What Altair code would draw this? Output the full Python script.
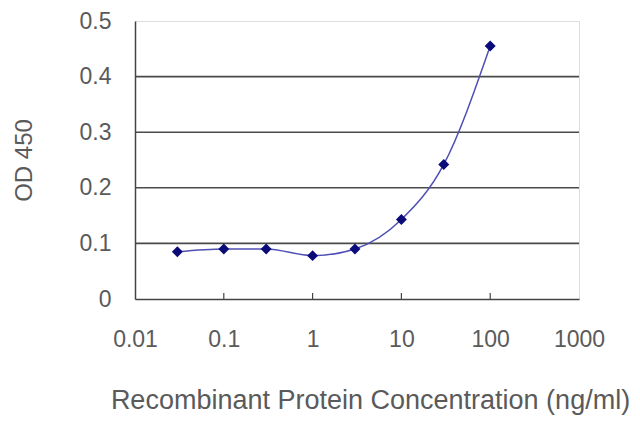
import altair as alt
import pandas as pd

# ELISA standard curve
conc = [0.03, 0.1, 0.3, 1, 3, 10, 30, 100]
od450 = [0.085, 0.090, 0.090, 0.078, 0.090, 0.143, 0.242, 0.455]
x_ticks = [0.01, 0.1, 1, 10, 100, 1000]
y_ticks = [0, 0.1, 0.2, 0.3, 0.4, 0.5]
grid_lines = [0.1, 0.2, 0.3, 0.4]

df = pd.DataFrame({"conc": conc, "od": od450})
ticks_df = pd.DataFrame({"t": x_ticks[1:-1]})
grid_df = pd.DataFrame({"g": grid_lines})

font = "Liberation Sans"
W, H = 444, 278

xscale = alt.Scale(type="log", domain=[0.01, 1000])
yscale = alt.Scale(domain=[0, 0.5])

x_axis = alt.Axis(values=x_ticks, labelExpr="datum.value >= 1 ? format(datum.value, 'd') : format(datum.value, '~g')",
                  grid=False, ticks=False, domainColor="#444", domainWidth=1.5, labelFlush=False,
                  labelFont=font, labelFontSize=23, labelColor="#5a5a5a", labelPadding=29,
                  title="Recombinant Protein Concentration (ng/ml)", titleFont=font,
                  titleFontSize=27, titleFontWeight="normal", titleColor="#5a5a5a",
                  titlePadding=36, titleX=235)
y_axis = alt.Axis(values=y_ticks, format="~g", grid=False, ticks=False, domainColor="#444",
                  domainWidth=1.5, labelFont=font, labelFontSize=23, labelColor="#5a5a5a",
                  labelPadding=24, labelFlush=False, title="OD 450", titleFont=font, titleFontSize=24,
                  titleFontWeight="normal", titleColor="#5a5a5a", titlePadding=43)

grid = alt.Chart(grid_df).mark_rule(color="#4a4a4a", strokeWidth=1.6).encode(
    y=alt.Y("g:Q", scale=yscale, axis=y_axis)
)

ticks = alt.Chart(ticks_df).mark_rule(color="#444", strokeWidth=1.2).encode(
    x=alt.X("t:Q", scale=xscale, axis=x_axis),
    y=alt.value(H - 6),
    y2=alt.value(H),
)

line = alt.Chart(df).mark_line(color="#4f4fb4", strokeWidth=1.5, interpolate="monotone").encode(
    x=alt.X("conc:Q", scale=xscale, axis=x_axis),
    y=alt.Y("od:Q", scale=yscale, axis=y_axis),
)

points = alt.Chart(df).mark_point(shape="diamond", filled=True, size=120, color="#0a0a78", opacity=1).encode(
    x=alt.X("conc:Q", scale=xscale),
    y=alt.Y("od:Q", scale=yscale),
)

chart = alt.layer(grid, ticks, line, points).properties(
    width=W, height=H,
    autosize=alt.AutoSizeParams(type="none"),
    padding={"left": 127, "top": 13, "right": 53, "bottom": 120},
).configure_view(stroke="#bbbbbb", strokeWidth=1.5).configure(background="white")

chart.save("out.html", embed_options={"renderer": "svg", "actions": False})
